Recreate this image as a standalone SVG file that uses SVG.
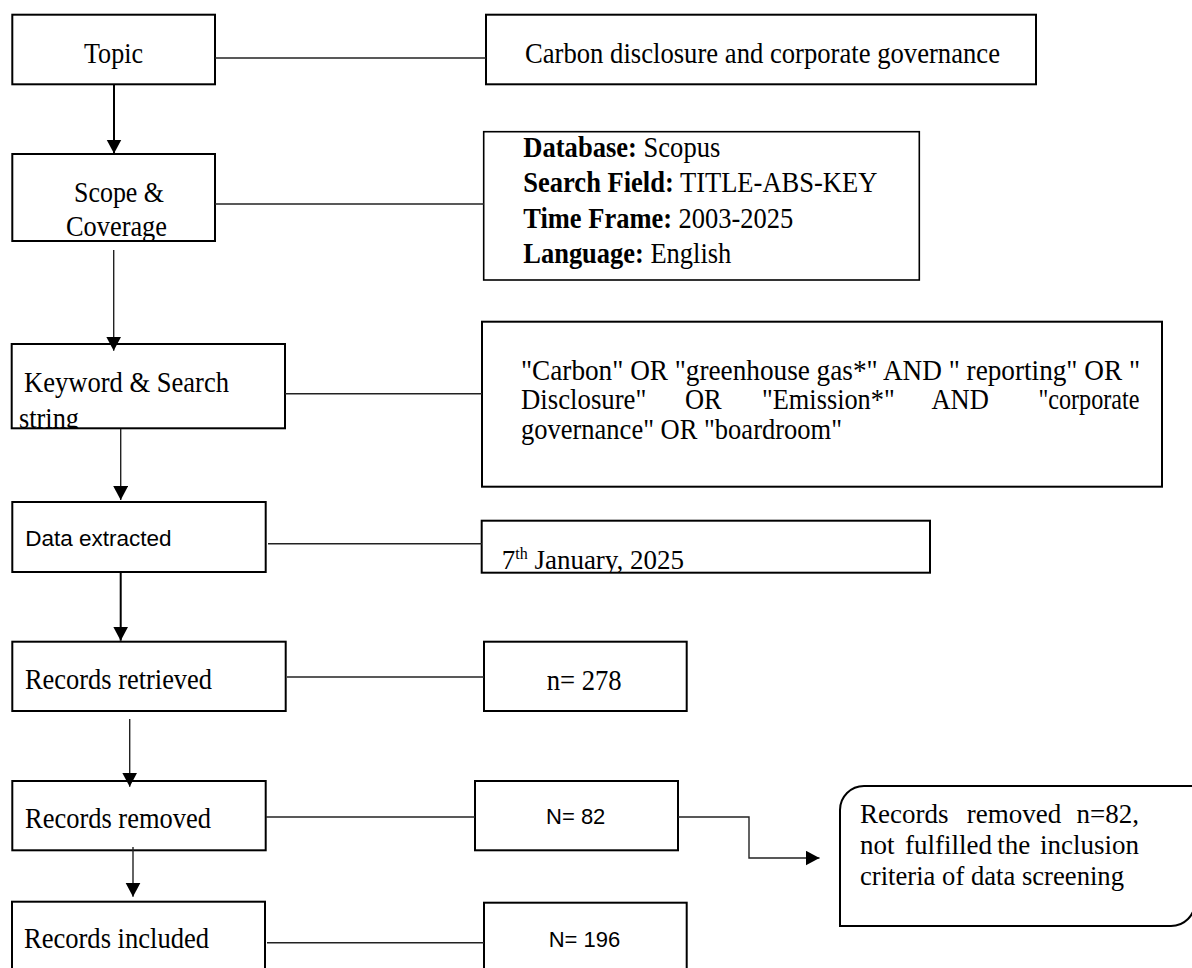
<svg xmlns="http://www.w3.org/2000/svg" width="1192" height="968" viewBox="0 0 1192 968">
<style>
.box{fill:#fff;stroke:#000;stroke-width:2}
.ln{fill:none;stroke:#222;stroke-width:1.4}
.lnb{fill:none;stroke:#000;stroke-width:2}
.t{font-family:"Liberation Serif","Times New Roman",serif;font-size:28.5px;fill:#000}
.s{font-family:"Liberation Sans",Arial,sans-serif;font-size:22.5px;fill:#000}
.b{font-weight:bold}
</style>
<defs>
<marker id="ah" markerUnits="userSpaceOnUse" markerWidth="16" markerHeight="16" refX="14" refY="7.5" orient="auto">
<path d="M0,0 L14,7.5 L0,15 Z" fill="#000"/>
</marker>
<clipPath id="clipKw"><rect x="0" y="300" width="300" height="129"/></clipPath>
<clipPath id="clipDate"><rect x="470" y="500" width="480" height="73"/></clipPath>
</defs>
<rect width="1192" height="968" fill="#fff"/>

<g id="topic">
<rect class="box" x="12.3" y="14.7" width="202.7" height="69.6"/>
<text class="t" x="84" y="63.3" textLength="59" lengthAdjust="spacingAndGlyphs">Topic</text>
</g>
<g id="topic-detail">
<rect class="box" x="486" y="14.7" width="550" height="69.6"/>
<text class="t" x="525" y="62.7" textLength="475" lengthAdjust="spacingAndGlyphs">Carbon disclosure and corporate governance</text>
</g>

<g id="scope">
<rect class="box" x="12.3" y="154" width="202.7" height="87"/>
<text class="t" x="74" y="201.7" textLength="90" lengthAdjust="spacingAndGlyphs">Scope &amp;</text>
<text class="t" x="66" y="236" textLength="101" lengthAdjust="spacingAndGlyphs">Coverage</text>
</g>
<g id="scope-detail">
<rect class="box" x="483.7" y="131.7" width="435.6" height="148.3" style="stroke-width:1.6"/>
<text class="t" x="523.3" y="156.7" textLength="197" lengthAdjust="spacingAndGlyphs"><tspan class="b">Database:</tspan> Scopus</text>
<text class="t" x="523.3" y="191.7" textLength="354" lengthAdjust="spacingAndGlyphs"><tspan class="b">Search Field:</tspan> TITLE-ABS-KEY</text>
<text class="t" x="523.3" y="228.3" textLength="270" lengthAdjust="spacingAndGlyphs"><tspan class="b">Time Frame:</tspan> 2003-2025</text>
<text class="t" x="523.3" y="262.7" textLength="208" lengthAdjust="spacingAndGlyphs"><tspan class="b">Language:</tspan> English</text>
</g>

<g id="keyword">
<rect class="box" x="11.7" y="344" width="273.3" height="84.3"/>
<text class="t" x="24" y="391.7" textLength="205" lengthAdjust="spacingAndGlyphs">Keyword &amp; Search</text>
<text class="t" x="19" y="427.5" clip-path="url(#clipKw)" textLength="60" lengthAdjust="spacingAndGlyphs">string</text>
</g>
<g id="search-string">
<rect class="box" x="482" y="321.7" width="680" height="165"/>
<text class="t" x="521" y="380" textLength="619" lengthAdjust="spacingAndGlyphs">"Carbon" OR "greenhouse gas*" AND " reporting" OR "</text>
<text class="t" x="521" y="409.3" textLength="125.4" lengthAdjust="spacingAndGlyphs">Disclosure"</text>
<text class="t" x="685" y="409.3" textLength="36.7" lengthAdjust="spacingAndGlyphs">OR</text>
<text class="t" x="762" y="409.3" textLength="132.7" lengthAdjust="spacingAndGlyphs">"Emission*"</text>
<text class="t" x="931.4" y="409.3" textLength="57.4" lengthAdjust="spacingAndGlyphs">AND</text>
<text class="t" x="1038.4" y="409.3" textLength="101" lengthAdjust="spacingAndGlyphs">"corporate</text>
<text class="t" x="521" y="439" textLength="321" lengthAdjust="spacingAndGlyphs">governance" OR "boardroom"</text>
</g>

<g id="data-extracted">
<rect class="box" x="12.3" y="502" width="253.4" height="70"/>
<text class="s" x="25.3" y="546">Data extracted</text>
</g>
<g id="date">
<rect class="box" x="481.7" y="520.7" width="448.3" height="52"/>
<text class="t" x="501.7" y="569.3" clip-path="url(#clipDate)" style="font-size:27px">7<tspan style="font-size:16px" dy="-10">th</tspan><tspan dy="10"> January, 2025</tspan></text>
</g>

<g id="records-retrieved">
<rect class="box" x="12.3" y="641.7" width="273.4" height="69.3"/>
<text class="t" x="25" y="689.3" textLength="187" lengthAdjust="spacingAndGlyphs">Records retrieved</text>
</g>
<g id="n278">
<rect class="box" x="484" y="641.7" width="202.7" height="69.3"/>
<text class="t" x="546.7" y="690" textLength="75" lengthAdjust="spacingAndGlyphs">n= 278</text>
</g>

<g id="records-removed">
<rect class="box" x="12.3" y="781" width="253.4" height="69.3"/>
<text class="t" x="25" y="828.3" textLength="186" lengthAdjust="spacingAndGlyphs">Records removed</text>
</g>
<g id="n82">
<rect class="box" x="475" y="781" width="203" height="69.3"/>
<text class="s" x="575.7" y="824.3" text-anchor="middle" style="font-size:22px">N= 82</text>
</g>
<g id="removed-note">
<path class="box" d="M840,926 L840,810 A24,24 0 0 1 864,786 L1195,786 L1195,902 A24,24 0 0 1 1171,926 Z"/>
<text class="t" x="860" y="823.3" style="font-size:27px">Records</text>
<text class="t" x="966.7" y="823.3" style="font-size:27px">removed</text>
<text class="t" x="1139" y="823.3" text-anchor="end" style="font-size:27px">n=82,</text>
<text class="t" x="860" y="854.3" style="font-size:27px">not</text>
<text class="t" x="905" y="854.3" style="font-size:27px">fulfilled</text>
<text class="t" x="997.3" y="854.3" style="font-size:27px">the</text>
<text class="t" x="1139" y="854.3" text-anchor="end" style="font-size:27px">inclusion</text>
<text class="t" x="860" y="885" textLength="264" lengthAdjust="spacingAndGlyphs" style="font-size:27px">criteria of data screening</text>
</g>

<g id="records-included">
<rect class="box" x="12" y="901.7" width="253" height="80"/>
<text class="t" x="24" y="948.3" textLength="185" lengthAdjust="spacingAndGlyphs">Records included</text>
</g>
<g id="n196">
<rect class="box" x="484" y="902.7" width="202.7" height="80"/>
<text class="s" x="584.5" y="946.7" text-anchor="middle" style="font-size:22px">N= 196</text>
</g>

<g id="connectors">
<line class="ln" x1="215" y1="58" x2="486" y2="58"/>
<line class="ln" x1="215" y1="204" x2="484" y2="204"/>
<line class="ln" x1="285" y1="393.7" x2="482" y2="393.7"/>
<line class="ln" x1="268" y1="543.7" x2="482" y2="543.7"/>
<line class="ln" x1="287" y1="677" x2="484" y2="677"/>
<line class="ln" x1="266" y1="817" x2="475" y2="817"/>
<line class="ln" x1="267" y1="942.7" x2="484" y2="942.7"/>
<polyline class="ln" points="678,817 749,817 749,858 819.5,858" marker-end="url(#ah)"/>
<line class="lnb" x1="114" y1="85" x2="114" y2="153.5" marker-end="url(#ah)"/>
<line class="ln" x1="113.7" y1="250" x2="113.7" y2="350.7" marker-end="url(#ah)"/>
<line class="ln" x1="120.7" y1="429" x2="120.7" y2="500" marker-end="url(#ah)"/>
<line class="lnb" x1="120.7" y1="573" x2="120.7" y2="640.7" marker-end="url(#ah)"/>
<line class="ln" x1="129.7" y1="719" x2="129.7" y2="786.7" marker-end="url(#ah)"/>
<line class="ln" x1="133" y1="847" x2="133" y2="896.7" marker-end="url(#ah)"/>
</g>
</svg>
